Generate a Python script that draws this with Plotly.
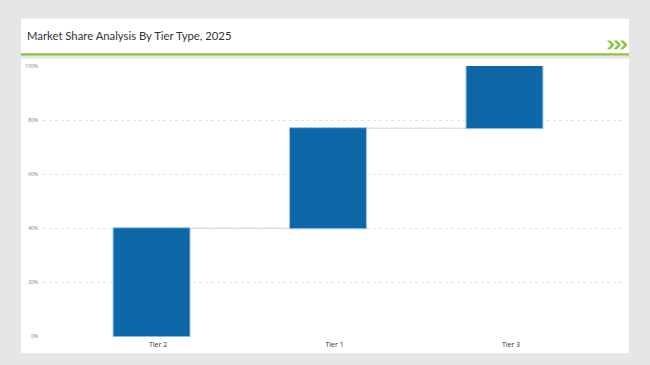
import plotly.graph_objects as go

W, H = 650, 365

categories = ["Tier 2", "Tier 1", "Tier 3"]
shares = [40, 37, 23]
measures = ["relative", "relative", "relative"]
y_tick_vals = [0, 20, 40, 60, 80, 100]
y_tick_text = ["0%", "20%", "40%", "60%", "80%", "100%"]
title_text = "Market Share Analysis By Tier Type, 2025"

BAR = "#0e68a8"
GREEN = "#8cc63f"
BG = "#e6e6e6"


def px(x):
    return x / W


def py(y):
    return 1 - y / H


fig = go.Figure()
fig.add_trace(go.Waterfall(
    x=categories,
    y=shares,
    measure=measures,
    width=0.436,
    offset=-0.255,
    increasing=dict(marker=dict(color=BAR, line=dict(color="#9cc3e4", width=1))),
    decreasing=dict(marker=dict(color=BAR)),
    totals=dict(marker=dict(color=BAR)),
    connector=dict(line=dict(color="#d0d0d0", width=1, dash="solid"), mode="between"),
    hoverinfo="skip",
    showlegend=False,
))

shapes = [
    dict(type="rect", xref="paper", yref="paper", x0=px(21), x1=px(629), y0=py(51), y1=py(16),
         fillcolor="white", line=dict(width=0), layer="below"),
    dict(type="rect", xref="paper", yref="paper", x0=px(21), x1=px(629), y0=py(53.5), y1=py(51),
         fillcolor=GREEN, line=dict(width=0), layer="below"),
    dict(type="rect", xref="paper", yref="paper", x0=px(21), x1=px(629), y0=py(356), y1=py(56.5),
         fillcolor="white", line=dict(width=0), layer="below"),
]

for i in range(3):
    x0 = 607 + i * 6.5
    path = "M {a},{b} L {c},{d} L {e},{f} L {g},{h} L {i2},{j} L {k},{l} Z".format(
        a=px(x0), b=py(38),
        c=px(x0 + 3.5), d=py(38),
        e=px(x0 + 7.5), f=py(42.5),
        g=px(x0 + 3.5), h=py(47),
        i2=px(x0), j=py(47),
        k=px(x0 + 4), l=py(42.5),
    )
    shapes.append(dict(type="path", xref="paper", yref="paper", path=path,
                       fillcolor=GREEN, line=dict(width=0)))

fig.update_layout(
    width=W, height=H,
    margin=dict(l=0, r=0, t=0, b=0),
    paper_bgcolor=BG,
    plot_bgcolor="rgba(0,0,0,0)",
    shapes=shapes,
    annotations=[dict(
        text=title_text, xref="paper", yref="paper", x=px(25), y=py(33),
        xanchor="left", yanchor="middle", showarrow=False,
        font=dict(family="Lato, Open Sans, sans-serif", size=11.3, color="#333333"),
    )],
    xaxis=dict(
        domain=[px(43), px(625)],
        range=[-0.652, 2.646],
        showgrid=False, zeroline=False, showline=False,
        ticks="", tickfont=dict(family="Open Sans, sans-serif", size=7, color="#333333"),
        ticklabelstandoff=3,
        anchor="y",
    ),
    yaxis=dict(
        domain=[py(339), py(64)],
        range=[0, 100],
        tickvals=y_tick_vals, ticktext=y_tick_text,
        showgrid=True, gridcolor="#e4e4e4", griddash="dot", gridwidth=1,
        zeroline=False, showline=False, ticks="",
        tickfont=dict(family="Open Sans, sans-serif", size=5, color="#7f7f7f"),
        ticklabelstandoff=4,
    ),
    font=dict(family="Open Sans, sans-serif"),
)

post = (
    "var d=document.getElementById('{plot_id}');"
    "d.style.display='block';"
    "if(d.parentElement){d.parentElement.style.height='365px';d.parentElement.style.overflow='hidden';}"
    "document.body.style.margin='0';document.body.style.padding='0';"
    "document.body.style.height='365px';document.body.style.overflow='hidden';"
    "document.documentElement.style.height='365px';document.documentElement.style.overflow='hidden';"
)

fig.write_html(
    "out.html",
    config={"displayModeBar": False, "staticPlot": True},
    post_script=post,
)
